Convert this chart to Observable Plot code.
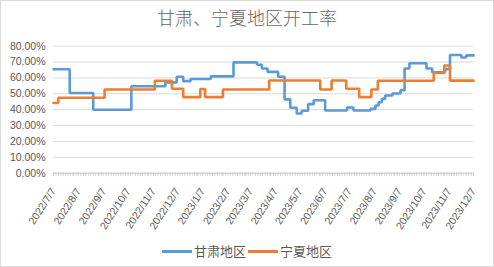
<!DOCTYPE html>
<html><head><meta charset="utf-8">
<script src="https://cdn.jsdelivr.net/npm/d3@7"></script>
<script src="https://cdn.jsdelivr.net/npm/@observablehq/plot@0.6"></script>
<style>
body{margin:0;background:#fff}
#chart{position:relative;width:494px;height:267px;overflow:hidden;background:#fff}
#frame{position:absolute;left:0;top:0;width:494px;height:267px;box-sizing:border-box;border:1px solid #d9d9d9;pointer-events:none}
#title{position:absolute;left:0;width:494px;top:4px;text-align:center;font-family:"Noto Sans CJK SC",sans-serif;font-weight:300;font-size:18px;color:#666;line-height:26px}
#legend{position:absolute;left:0;width:494px;top:241px;display:flex;justify-content:center;align-items:center;font-family:"Noto Sans CJK SC",sans-serif;font-size:13px;color:#595959;line-height:20px}
.sw{display:inline-block;width:30px;height:3px;margin-right:2px}
.item{display:flex;align-items:center;margin:0 1px}
#plot svg{position:absolute;left:0;top:0}
</style></head>
<body>
<div id="chart">
  <div id="plot"></div>
  <div id="title">甘肃、宁夏地区开工率</div>
  <div id="legend"></div>
  <div id="frame"></div>
</div>
<script>
const seriesNames = ["甘肃地区", "宁夏地区"];
const seriesColors = ["#5B9BD5", "#ED7D31"];

const gansuDates = ["2022-07-07","2022-07-27","2022-08-25","2022-10-11","2022-11-22","2022-12-06","2022-12-14","2022-12-23","2023-01-17","2023-02-14","2023-03-15","2023-03-21","2023-03-28","2023-04-10","2023-04-18","2023-04-25","2023-05-03","2023-05-09","2023-05-17","2023-05-24","2023-06-07","2023-07-04","2023-07-12","2023-08-02","2023-08-08","2023-08-12","2023-08-16","2023-08-20","2023-08-29","2023-09-08","2023-09-13","2023-09-19","2023-10-10","2023-10-17","2023-11-02","2023-11-08","2023-11-22","2023-11-28","2023-12-07"];
const gansuValues = [65.5,50.5,40.0,54.8,57.2,60.8,58.0,59.3,61.0,69.8,68.3,66.0,63.8,60.8,46.5,41.2,37.6,39.3,43.5,46.0,39.5,41.4,39.5,40.5,42.6,44.7,46.8,48.9,50.2,52.3,66.0,69.3,66.0,63.6,65.5,74.5,72.9,74.2,74.2];

const ningxiaDates = ["2022-07-07","2022-07-13","2022-09-08","2022-11-09","2022-11-30","2022-12-14","2023-01-04","2023-01-10","2023-02-01","2023-03-30","2023-06-01","2023-06-15","2023-07-03","2023-07-19","2023-08-03","2023-08-11","2023-10-19","2023-11-01","2023-11-08","2023-12-07"];
const ningxiaValues = [44.2,47.5,52.7,58.2,53.2,47.9,53.0,47.9,52.7,58.4,52.7,58.4,53.2,47.9,52.7,58.2,63.1,67.8,58.3,58.3];

const xTickLabels = ["2022/7/7","2022/8/7","2022/9/7","2022/10/7","2022/11/7","2022/12/7","2023/1/7","2023/2/7","2023/3/7","2023/4/7","2023/5/7","2023/6/7","2023/7/7","2023/8/7","2023/9/7","2023/10/7","2023/11/7","2023/12/7"];
const yTicks = [0,10,20,30,40,50,60,70,80];

const parseLabel = s => { const [y,m,d] = s.split("/").map(Number); return new Date(Date.UTC(y, m-1, d)); };
const tickDates = xTickLabels.map(parseLabel);
const labelByTime = new Map(tickDates.map((d,i)=>[+d, xTickLabels[i]]));

const rows = [];
gansuDates.forEach((d,i)=>rows.push({date:new Date(d+"T00:00:00Z"), value:gansuValues[i], series:seriesNames[0]}));
ningxiaDates.forEach((d,i)=>rows.push({date:new Date(d+"T00:00:00Z"), value:ningxiaValues[i], series:seriesNames[1]}));

const xDomain = [tickDates[0], tickDates[tickDates.length-1]];
const minorTicks = d3.utcDay.every(3).range(xDomain[0], new Date(+xDomain[1] + 1));

const chart = Plot.plot({
  width: 494, height: 267,
  marginTop: 45.7, marginBottom: 94.3, marginLeft: 53, marginRight: 21,
  style: {fontFamily: '"Liberation Sans", Arial, sans-serif', fontSize: "10.5px", color: "#595959", background: "transparent", overflow: "visible"},
  x: {type: "utc", domain: xDomain},
  y: {domain: [0, 80]},
  color: {domain: seriesNames, range: seriesColors},
  marks: [
    Plot.ruleY(yTicks.filter(v=>v>0), {stroke: "#d9d9d9", strokeWidth: 1}),
    Plot.ruleY([0], {stroke: "#bfbfbf", strokeWidth: 1}),
    Plot.ruleX(minorTicks, {y1: 0, y2: -2, stroke: "#c8c8c8", strokeWidth: 0.8}),
    Plot.axisY({ticks: yTicks, tickFormat: d => d.toFixed(2) + "%", tickSize: 0, tickPadding: 8, label: null, fill: "#595959"}),
    Plot.axisX({ticks: tickDates, tickFormat: d => labelByTime.get(+d), tickRotate: -57, tickSize: 0, tickPadding: 16, label: null, fill: "#595959"}),
    Plot.line(rows, {x: "date", y: "value", z: "series", stroke: "series", curve: "step-after", strokeWidth: 2.6, strokeLinejoin: "miter"})
  ]
});
document.getElementById("plot").appendChild(chart);

const legend = document.getElementById("legend");
seriesNames.forEach((n,i)=>{
  const it = document.createElement("span"); it.className = "item";
  const sw = document.createElement("span"); sw.className = "sw"; sw.style.background = seriesColors[i];
  const tx = document.createElement("span"); tx.textContent = n;
  it.appendChild(sw); it.appendChild(tx); legend.appendChild(it);
});
</script>
</body></html>
